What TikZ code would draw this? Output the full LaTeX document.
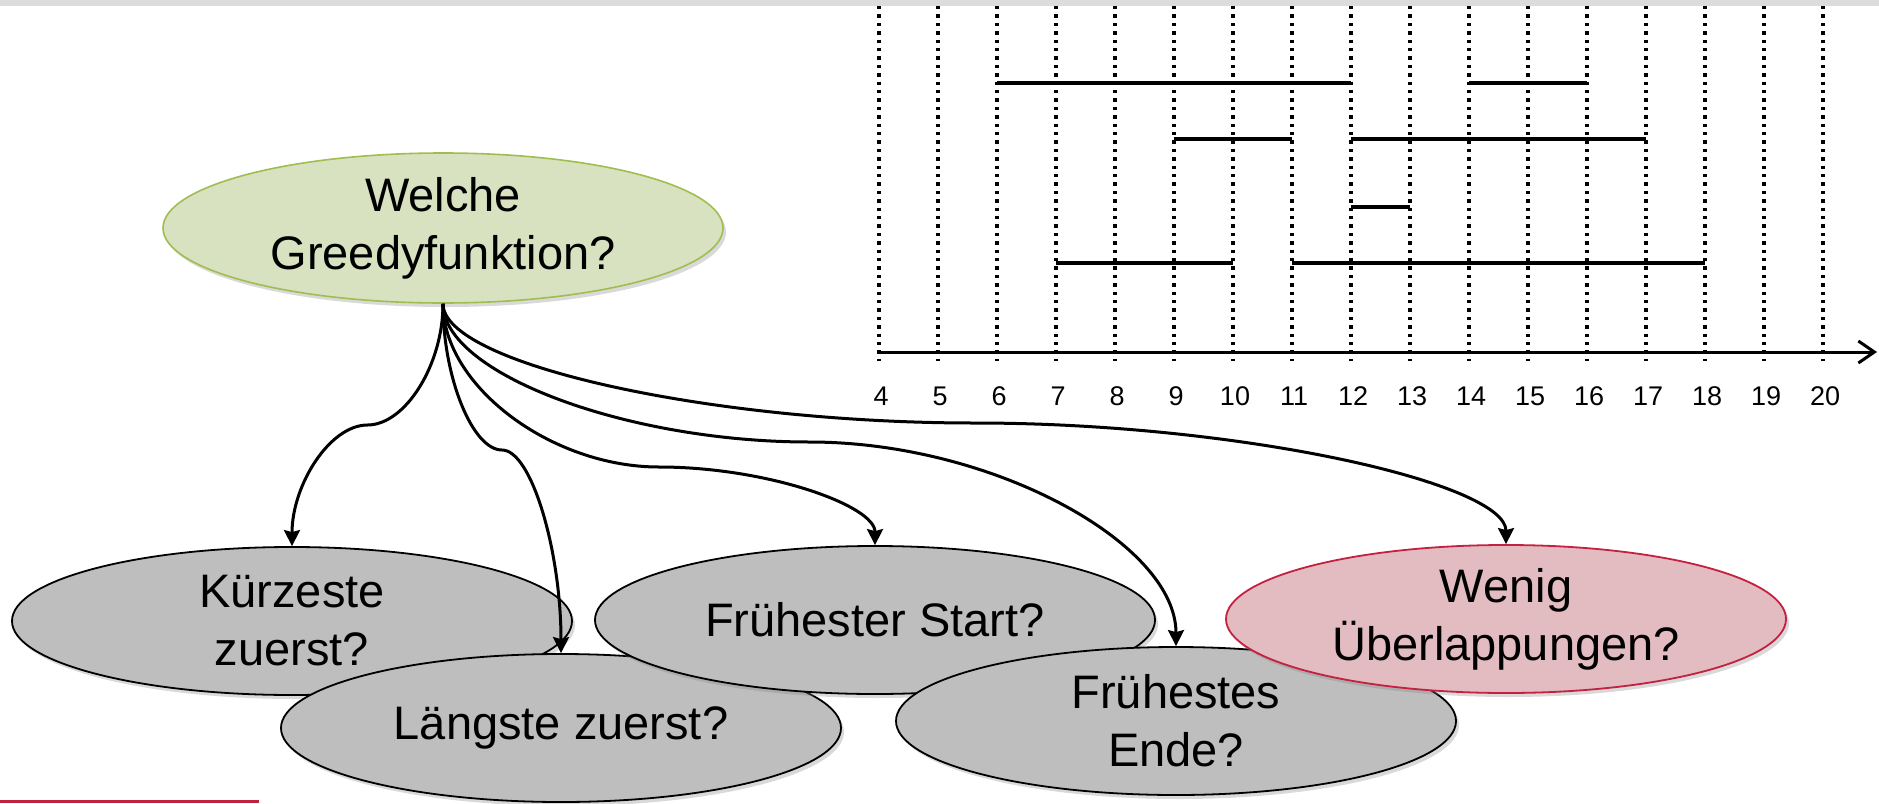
\documentclass[tikz,border=0pt]{standalone}
\usepackage{fontspec}
\setmainfont{Liberation Sans}
\usetikzlibrary{shapes.geometric,shadows,arrows.meta,calc}
\definecolor{olivefill}{RGB}{216,225,192}
\definecolor{olivedraw}{RGB}{160,190,80}
\definecolor{greyfill}{RGB}{190,190,190}
\definecolor{rosefill}{RGB}{226,188,192}
\definecolor{rosedraw}{RGB}{196,32,64}
\definecolor{topbar}{RGB}{220,220,220}
\tikzset{
ell/.style={draw,ellipse,line width=0.9pt,minimum width=280pt,minimum height=74pt,inner sep=0pt,align=center,font=\fontsize{23.5}{29}\selectfont,drop shadow={shadow xshift=1.5pt,shadow yshift=-2pt,opacity=0.3}},
root/.style={ell,fill=olivefill,draw=olivedraw,line width=0.8pt,minimum height=75pt},
opt/.style={ell,fill=greyfill},
best/.style={ell,fill=rosefill,draw=rosedraw},
conn/.style={line width=1.5pt,-{Stealth[length=8pt,width=8pt,inset=1pt]}},
vline/.style={line width=1.6pt,dash pattern=on 1.7pt off 2.5pt},
job/.style={line width=2.2pt},
axis/.style={line width=1.5pt,-{Straight Barb[length=8pt,width=11pt]}},
num/.style={font=\fontsize{13.5}{16}\selectfont,inner sep=0pt},
}

\begin{document}
\begin{tikzpicture}[x=0.5pt,y=-0.5pt]
  \useasboundingbox (0,0) rectangle (1879,803);
  \fill[topbar] (0,0) rectangle (1879,6);
  \fill[rosedraw] (0,800) rectangle (259,803);

  % time line
  \foreach \t in {4,...,20}
  { \draw[vline] ({879+59*(\t-4)},6) -- ({879+59*(\t-4)},361);
    \node[num] (t\t) at ({881+59*(\t-4)},396) {\t}; }
  \draw[axis] (879,352) -- (1877,352);
  \foreach \a/\b/\y in {6/12/83,14/16/83,9/11/139,12/17/139,12/13/207,7/10/263,11/18/263}
    \draw[job] ({879+59*(\a-4)},\y) -- ({879+59*(\b-4)},\y);

  % ellipses
  \node[root] (welche) at (443,228) {Welche\\Greedyfunktion?};
  \node[opt] (kurz) at (292,621) {Kürzeste\\zuerst?};
  \node[opt] (lang) at (561,728) {Längste zuerst?};
  \node[opt] (start) at (875,620) {Frühester Start?};
  \node[opt] (ende) at (1176,721) {Frühestes\\Ende?};
  \node[best] (wenig) at (1506,619) {Wenig\\Überlappungen?};

  % connectors
  \coordinate (m1) at (367.5,425);
  \coordinate (m2) at (502,450);
  \coordinate (m3) at (659,467);
  \coordinate (m4) at (809.5,442);
  \coordinate (m5) at (974.5,423);
  \draw[conn] (welche.south) .. controls +(0,61) and +(37.75,0) .. (m1)
    .. controls +(-37.75,0) and +(0,-61) .. (kurz.north);
  \draw[conn] (welche.south) .. controls +(0,73.5) and +(-29.5,0) .. (m2)
    .. controls +(29.5,0) and +(0,-102) .. (lang.north);
  \draw[conn] (welche.south) .. controls +(0,82) and +(-108,0) .. (m3)
    .. controls +(108,0) and +(0,-39.5) .. (start.north);
  \draw[conn] (welche.south) .. controls +(0,69.5) and +(-183.25,0) .. (m4)
    .. controls +(183.25,0) and +(0,-102.5) .. (ende.north);
  \draw[conn] (welche.south) .. controls +(0,60) and +(-265.75,0) .. (m5)
    .. controls +(265.75,0) and +(0,-61) .. (wenig.north);
\end{tikzpicture}
\end{document}
